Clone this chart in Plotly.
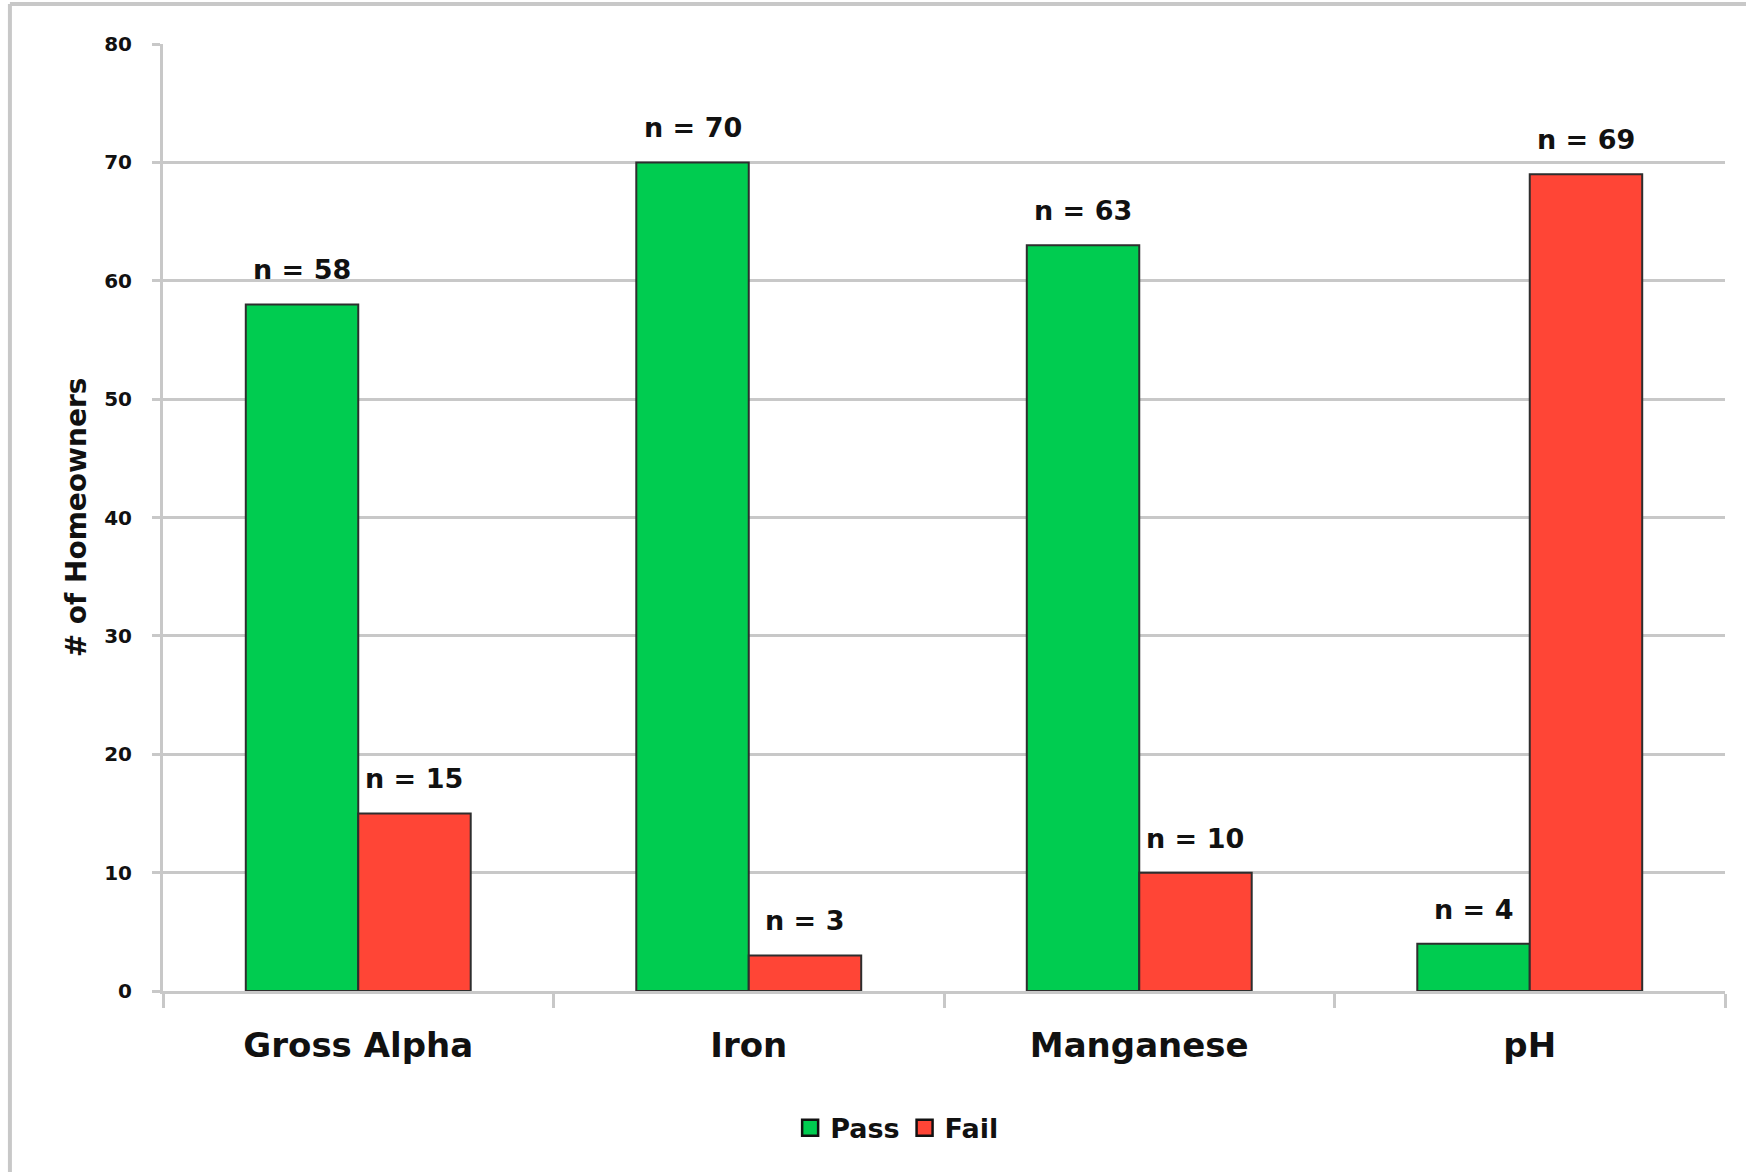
import plotly.graph_objects as go

# Water test results per parameter
parameters = ["Gross Alpha", "Iron", "Manganese", "pH"]
pass_counts = [58, 70, 63, 4]
fail_counts = [15, 3, 10, 69]

PASS_COLOR = "#00CC50"
FAIL_COLOR = "#FF4536"
EDGE = "#2e2e2e"
GRID = "#c8c8c8"
FONT = "DejaVu Sans"
INK = "#111111"

BARGAP = 0.424
half_bar = (1 - BARGAP) / 4  # offset of each bar centre from its category centre

fig = go.Figure()
fig.add_trace(go.Bar(
    x=parameters, y=pass_counts, name="Pass",
    marker=dict(color=PASS_COLOR, line=dict(color=EDGE, width=2)),
    showlegend=False,
))
fig.add_trace(go.Bar(
    x=parameters, y=fail_counts, name="Fail",
    marker=dict(color=FAIL_COLOR, line=dict(color=EDGE, width=2)),
    showlegend=False,
))

# legend entries with larger square swatches
for name, color in [("Pass", PASS_COLOR), ("Fail", FAIL_COLOR)]:
    fig.add_trace(go.Scatter(
        x=[None], y=[None], mode="markers", name=name,
        marker=dict(symbol="square", size=16, color=color,
                    line=dict(color=INK, width=2.5)),
    ))

# "n = ..." labels above each bar
for i, (p, f) in enumerate(zip(pass_counts, fail_counts)):
    for val, off in [(p, -half_bar), (f, half_bar)]:
        fig.add_annotation(
            x=i + off, y=val, text=f"n = {val}", showarrow=False,
            yanchor="bottom", yshift=17,
            font=dict(family=FONT, size=27, color=INK, weight="bold"),
        )

# grey frame around the chart
fig.add_shape(type="line", xref="paper", yref="paper",
              x0=-0.098, x1=1.2, y0=1.0422, y1=1.0422,
              line=dict(color=GRID, width=4))
fig.add_shape(type="line", xref="paper", yref="paper",
              x0=-0.098, x1=-0.098, y0=1.0422, y1=-0.3,
              line=dict(color=GRID, width=4))

fig.update_layout(
    width=1746, height=1172,
    margin=dict(l=163, r=21, t=44, b=181),
    paper_bgcolor="white", plot_bgcolor="white",
    barmode="group", bargap=BARGAP, bargroupgap=0,
    font=dict(family=FONT, color=INK),
    legend=dict(
        orientation="h", xanchor="center", yanchor="middle",
        x=0.47, y=-0.145,
        font=dict(family=FONT, size=27, color=INK, weight="bold"),
        itemwidth=30, tracegroupgap=0,
    ),
    xaxis=dict(
        type="category",
        tickfont=dict(family=FONT, size=34, color=INK, weight="bold"),
        tickson="boundaries", ticks="outside", ticklen=14, tickwidth=3,
        tickcolor=GRID, showline=True, linecolor=GRID, linewidth=3,
        ticklabelstandoff=22,
        showgrid=False,
    ),
    yaxis=dict(
        range=[0, 80], dtick=10,
        tickfont=dict(family=FONT, size=20, color=INK, weight="bold"),
        ticks="outside", ticklen=8, tickwidth=3, tickcolor=GRID,
        showline=True, linecolor=GRID, linewidth=3,
        showgrid=True, gridcolor=GRID, gridwidth=3,
        zeroline=False, ticklabelstandoff=16,
        title=dict(text="# of Homeowners",
                   font=dict(family=FONT, size=28, color=INK, weight="bold"),
                   standoff=10),
    ),
)

fig.write_html("out.html")
